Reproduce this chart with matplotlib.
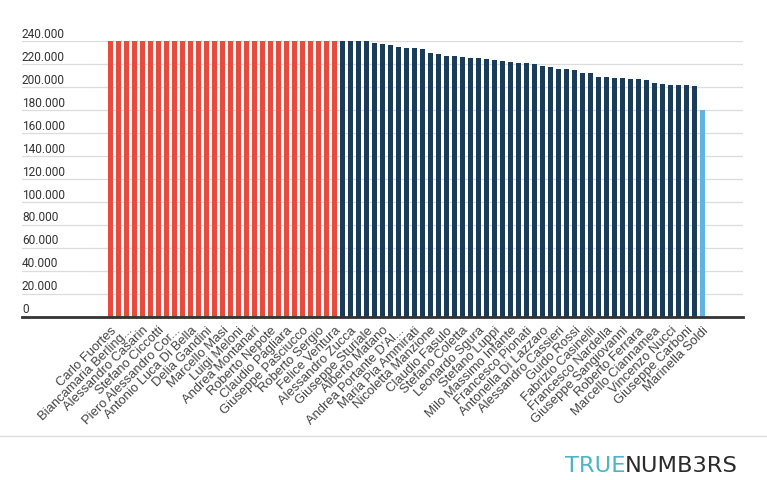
import matplotlib
matplotlib.use("Agg")
import matplotlib.pyplot as plt
from matplotlib.lines import Line2D

# ---------------- data ----------------
tick_labels = [
    "Carlo Fuortes", "Biancamaria Berling...", "Alessandro Casarin", "Stefano Ciccotti",
    "Piero Alessandro Cor...", "Antonio Luca Di Bella", "Delia Gandini", "Marcello Masi",
    "Luigi Meloni", "Andrea Montanari", "Roberto Nepote", "Claudio Pagliara",
    "Giuseppe Pasciucco", "Roberto Sergio", "Felice Ventura", "Alessandro Zucca",
    "Giuseppe Sturiale", "Alberto Matano", "Andrea Portante D'Al...", "Maria Pia Ammirati",
    "Nicoletta Manzione", "Claudio Fasulo", "Stefano Coletta", "Leonardo Sgura",
    "Stefano Luppi", "Milo Massimo Infante", "Francesco Pionati", "Antonella Di Lazzaro",
    "Alessandro Cassieri", "Guido Rossi", "Fabrizio Casinelli", "Francesco Nardella",
    "Giuseppe Sangiovanni", "Roberto Ferrara", "Marcello Ciannamea", "Vincenzo Nucci",
    "Giuseppe Carboni", "Marinella Soldi",
]

# capped salaries (red)
red_values = [
    240000, 240000, 240000, 240000, 240000, 240000, 240000, 240000, 240000, 240000,
    240000, 240000, 240000, 240000, 240000, 240000, 240000, 240000, 240000, 240000,
    240000, 240000, 240000, 240000, 240000, 240000, 240000, 240000, 240000,
]
# other managers (navy)
navy_values = [
    240000, 240000, 240000, 240000, 238500, 237700, 236800, 235100, 234200, 234200,
    233300, 229800, 229000, 227200, 227200, 226400, 225500, 225500, 224600, 223800,
    222900, 222000, 221100, 221100, 220300, 218500, 217700, 215900, 215900, 215000,
    212400, 212400, 208900, 208900, 208100, 208100, 207200, 207200, 206400, 203700,
    202900, 202000, 202000, 202000, 201100,
]
# last one (light blue)
blue_values = [180000]

y_ticks = [0, 20000, 40000, 60000, 80000, 100000, 120000, 140000,
           160000, 180000, 200000, 220000, 240000]
y_tick_labels = ["0", "20.000", "40.000", "60.000", "80.000", "100.000", "120.000",
                 "140.000", "160.000", "180.000", "200.000", "220.000", "240.000"]

# ---------------- figure ----------------
W, H = 767, 481
fig = plt.figure(figsize=(W / 100, H / 100), dpi=100)
fig.patch.set_facecolor("white")

ax_left, ax_right = 22, 743
ax_top, ax_bottom = 42.3, 317.7
ax = fig.add_axes([ax_left / W, (H - ax_bottom) / H,
                   (ax_right - ax_left) / W, (ax_bottom - ax_top) / H])

n_red = len(red_values)
n_navy = len(navy_values)
x_red = list(range(n_red))
x_navy = list(range(n_red, n_red + n_navy))
x_blue = list(range(n_red + n_navy, n_red + n_navy + len(blue_values)))

bw = 0.59
ax.bar(x_red, red_values, width=bw, color="#e84a3d", zorder=2)
ax.bar(x_navy, navy_values, width=bw, color="#1c3d5a", zorder=2)
ax.bar(x_blue, blue_values, width=bw, color="#62b3e2", zorder=2)

n_total = n_red + n_navy + len(blue_values)
ax.set_xlim(-11.06, n_total - 1 + 5.06)
ax.set_ylim(0, 240000)

# grid lines
for v in y_ticks[1:]:
    ax.axhline(v, color="#dcdcdc", lw=0.9, zorder=1)

ax.set_yticks([])
for v, lab in zip(y_ticks, y_tick_labels):
    ax.annotate(lab, xy=(0, v), xycoords=("axes fraction", "data"),
                xytext=(0, 3.2), textcoords="offset points",
                ha="left", va="baseline", fontsize=8.6, color="#333333",
                family="Roboto", annotation_clip=False)

ax.set_xticks(list(range(0, n_total, 2)))
ax.set_xticklabels(tick_labels, rotation=45, ha="right", va="top",
                   rotation_mode="anchor", fontsize=9.4, color="#444444",
                   family="Liberation Sans")
ax.tick_params(axis="x", length=0, pad=5)

for s in ["left", "right", "top"]:
    ax.spines[s].set_visible(False)
ax.spines["bottom"].set_color("#333333")
ax.spines["bottom"].set_linewidth(2.0)
ax.spines["bottom"].set_zorder(3)

# bottom separator
fig.add_artist(Line2D([0, 1], [(H - 437) / H, (H - 437) / H],
                      transform=fig.transFigure, color="#dddddd", lw=1.0))

# logo
t2 = fig.text(738 / W, (H - 466) / H, "NUMB3RS", ha="right", va="center",
              fontsize=16.2, color="#2b2b2b", family="DejaVu Sans")
fig.canvas.draw()
ax.annotate("TRUE", xy=(0, 0.5), xycoords=t2, ha="right", va="center",
            fontsize=16.2, color="#4bb5c3", family="DejaVu Sans",
            annotation_clip=False)

fig.savefig("out.png", dpi=100)
